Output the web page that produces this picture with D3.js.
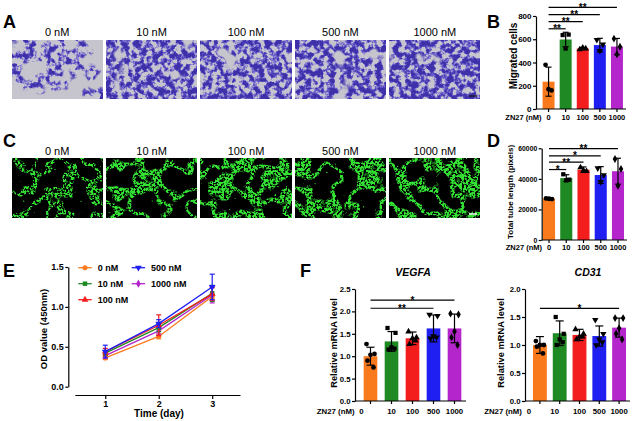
<!DOCTYPE html>
<html>
<head>
<meta charset="utf-8">
<script src="https://cdn.jsdelivr.net/npm/d3@7"></script>
<style>
body { margin: 0; background: #fff; }
svg { display: block; font-family: "Liberation Sans", Arial, sans-serif; }
</style>
</head>
<body>
<svg width="641" height="421"></svg>
<script>
// ---- data ----
const cats = ["0", "10", "100", "500", "1000"];
const doseNames = ["0 nM", "10 nM", "100 nM", "500 nM", "1000 nM"];
const catColors = ["#f97a1d", "#1f8a23", "#f41d1d", "#1f1ff2", "#b425cc"];

// B: migrated cells
const migMean = [235, 598, 520, 550, 537];
const migSd = [125, 62, 10, 58, 70];
const migPts = [[380, 160, 170], [636, 640, 520], [512, 520, 528], [595, 555, 500], [605, 535, 470]];
const migTicks = [0, 200, 400, 600, 800];
const migSig = [[1, "**", 690], [2, "**", 751], [3, "**", 811], [4, "**", 875]];

// D: total tube length
const tubeMean = [27000, 40500, 46000, 42500, 45000];
const tubeSd = [600, 2200, 1800, 5500, 8500];
const tubePts = [[27200, 26800, 27000], [43000, 39500, 39000], [47500, 45000, 45500], [47000, 42500, 38000], [53000, 46500, 35500]];
const tubeTicks = [0, 20000, 40000, 60000];
const tubeSig = [[1, "*", 46100], [2, "**", 51000], [3, "*", 55000], [4, "**", 59800]];

// E: OD value over time
const days = [1, 2, 3];
const od0 = [0.36, 0.63, 1.13], odSd0 = [0.02, 0.03, 0.03];
const od10 = [0.42, 0.74, 1.17], odSd10 = [0.03, 0.05, 0.10];
const od100 = [0.44, 0.77, 1.16], odSd100 = [0.04, 0.13, 0.08];
const od500 = [0.44, 0.79, 1.25], odSd500 = [0.08, 0.05, 0.16];
const od1000 = [0.39, 0.70, 1.15], odSd1000 = [0.03, 0.04, 0.10];
const odTicks = [0, 0.5, 1.0, 1.5];

// F: relative mRNA
const vegfaMean = [1.0, 1.33, 1.40, 1.62, 1.62];
const vegfaSd = [0.2, 0.22, 0.14, 0.30, 0.32];
const vegfaPts = [[1.27, 1.05, 1.03, 0.9, 0.75], [1.63, 1.52, 1.2, 1.15, 1.17], [1.55, 1.42, 1.4, 1.27, 1.35],
                  [1.93, 1.9, 1.45, 1.4, 1.42], [1.95, 1.93, 1.55, 1.42, 1.25]];
const vegfaTicks = [0, 0.5, 1.0, 1.5, 2.0, 2.5];
const vegfaSig = [[4, "*", 2.25], [3, "**", 2.07]];

const cd31Mean = [1.0, 1.21, 1.18, 1.16, 1.31];
const cd31Sd = [0.15, 0.22, 0.10, 0.18, 0.17];
const cd31Pts = [[1.07, 1.0, 1.0, 0.97, 0.85], [1.5, 1.2, 1.1, 1.0, 1.05], [1.28, 1.2, 1.15, 1.1, 1.15],
                 [1.45, 1.2, 1.1, 1.0, 1.05], [1.48, 1.48, 1.3, 1.2, 1.1]];
const cd31Ticks = [0, 0.5, 1.0, 1.5, 2.0];
const cd31Sig = [[4, "*", 1.655]];

// ---- drawing ----
const svg = d3.select("svg");
const defs = svg.append("defs");
svg.append("rect").attr("width", 641).attr("height", 421).attr("fill", "#fff");

const symTypes = [d3.symbolCircle, d3.symbolSquare, d3.symbolTriangle, d3.symbolTriangle, d3.symbolDiamond];
const offs3 = [-3, 3, 0];
const offs5 = [-4, 4, 0, -3, 3];

// panel letters
[["A", 3, 28], ["B", 487, 28], ["C", 3, 147], ["D", 487, 147], ["E", 3, 277], ["F", 300, 277]].forEach(([t, x, y]) => {
  svg.append("text").attr("x", x).attr("y", y).attr("font-size", 18).attr("font-weight", "bold").text(t);
});

// micrograph-like tiles (textures only)
const imgX = d3.scaleBand().domain(doseNames).range([12, 480]).paddingInner(0.043);

function toAlpha(f, src, out) {
  f.append("feColorMatrix").attr("in", src).attr("type", "matrix")
    .attr("values", "0 0 0 0 0 0 0 0 0 0 0 0 0 0 0 1 0 0 0 0").attr("result", out + "a");
  return out + "a";
}
// soft threshold
function soft(f, src, out, t, k) {
  const a = toAlpha(f, src, out);
  f.append("feComponentTransfer").attr("in", a).attr("result", out)
    .append("feFuncA").attr("type", "linear").attr("slope", k).attr("intercept", -k * t + 0.5);
}
// ridge mask around noise mid value
function ridge(f, src, out, w) {
  const a = toAlpha(f, src, out);
  const n = 80;
  const tv = d3.range(n).map(i => {
    const dd = Math.abs((i + 0.5) / n - 0.5);
    return dd < w ? 1 : dd < w * 1.4 ? 0.45 : 0;
  });
  f.append("feComponentTransfer").attr("in", a).attr("result", out)
    .append("feFuncA").attr("type", "discrete").attr("tableValues", tv.join(" "));
}
function newFilter(id) {
  return defs.append("filter").attr("id", id).attr("x", 0).attr("y", 0).attr("width", 1).attr("height", 1)
    .attr("color-interpolation-filters", "sRGB");
}
function paint(f, color, m, out) {
  f.append("feFlood").attr("flood-color", color).attr("result", out + "f");
  f.append("feComposite").attr("in", out + "f").attr("in2", m).attr("operator", "in").attr("result", out);
}

function stainFilter(id, seed, t, gate) {
  const f = newFilter(id);
  f.append("feTurbulence").attr("type", "fractalNoise").attr("baseFrequency", 0.17).attr("numOctaves", 3).attr("seed", seed).attr("result", "hi");
  f.append("feTurbulence").attr("type", "fractalNoise").attr("baseFrequency", 0.045).attr("numOctaves", 2).attr("seed", seed + 20).attr("result", "lo");
  soft(f, "hi", "hm", t, 9);
  soft(f, "hi", "hd", t + 0.1, 9);
  soft(f, "lo", "lm", gate, 12);
  f.append("feComposite").attr("in", "hm").attr("in2", "lm").attr("operator", "in").attr("result", "m1");
  f.append("feComposite").attr("in", "hd").attr("in2", "lm").attr("operator", "in").attr("result", "m2");
  paint(f, "#7265cf", "m1", "cells");
  paint(f, "#3d30a8", "m2", "core");
  f.append("feFlood").attr("flood-color", "#c6c5cd").attr("result", "bg");
  const m = f.append("feMerge");
  ["bg", "cells", "core"].forEach(n => m.append("feMergeNode").attr("in", n));
}

function tubeFilter(id, seed, w, sp) {
  const f = newFilter(id);
  f.append("feTurbulence").attr("type", "fractalNoise").attr("baseFrequency", 0.042).attr("numOctaves", 2).attr("seed", seed).attr("result", "n1");
  f.append("feTurbulence").attr("type", "fractalNoise").attr("baseFrequency", 0.45).attr("numOctaves", 2).attr("seed", seed + 3).attr("result", "n2");
  f.append("feTurbulence").attr("type", "fractalNoise").attr("baseFrequency", 0.35).attr("numOctaves", 1).attr("seed", seed + 5).attr("result", "n3");
  ridge(f, "n1", "net", w);
  soft(f, "n2", "spk", sp, 7);
  soft(f, "n3", "dot", 0.77, 14);
  f.append("feComposite").attr("in", "net").attr("in2", "spk").attr("operator", "in").attr("result", "netS");
  const mm = f.append("feMerge").attr("result", "all");
  ["netS", "dot"].forEach(n => mm.append("feMergeNode").attr("in", n));
  paint(f, "#34e234", "all", "green");
  f.append("feFlood").attr("flood-color", "#000").attr("result", "bg");
  const m = f.append("feMerge");
  ["bg", "green"].forEach(n => m.append("feMergeNode").attr("in", n));
}

const stainT = [0.5, 0.45, 0.46, 0.45, 0.44];
const stainGate = [0.5, 0.3, 0.34, 0.33, 0.3];
const tubeW = [0.032, 0.05, 0.055, 0.05, 0.06];
doseNames.forEach((d, i) => {
  stainFilter("fa" + i, 3 + i * 7, stainT[i], stainGate[i]);
  tubeFilter("fc" + i, 41 + i * 5, tubeW[i], i === 0 ? 0.5 : 0.45);
  const x = imgX(d), w = imgX.bandwidth();
  svg.append("text").attr("x", x + w / 2).attr("y", 36).attr("text-anchor", "middle").attr("font-size", 11).text(d);
  svg.append("rect").attr("x", x).attr("y", 40).attr("width", w).attr("height", 59).attr("fill", "#ccc").attr("filter", `url(#fa${i})`);
  svg.append("text").attr("x", x + w / 2).attr("y", 155).attr("text-anchor", "middle").attr("font-size", 11).text(d);
  svg.append("rect").attr("x", x).attr("y", 158).attr("width", w).attr("height", 60).attr("fill", "#000").attr("filter", `url(#fc${i})`);
});
// scale bars
const lastX = imgX("1000 nM") + imgX.bandwidth();
svg.append("line").attr("x1", lastX - 11).attr("x2", lastX - 3).attr("y1", 96).attr("y2", 96).attr("stroke", "#111").attr("stroke-width", 1.2);
svg.append("line").attr("x1", lastX - 11).attr("x2", lastX - 3).attr("y1", 214).attr("y2", 214).attr("stroke", "#fff").attr("stroke-width", 1.5);

// axes helpers
function leftAxis(x, y, ticks, fmt, fs) {
  const g = svg.append("g").attr("transform", `translate(${x},0)`)
    .call(d3.axisLeft(y).tickValues(ticks).tickFormat(fmt).tickSize(3).tickSizeOuter(0).tickPadding(1.5));
  g.attr("font-family", null).attr("font-size", fs).attr("font-weight", "bold");
  g.selectAll("path,line").attr("stroke", "#000").attr("stroke-width", 1.2);
  return g;
}

function barChart(o) {
  const x = d3.scaleBand().domain(cats).range(o.band).paddingInner(o.pad).paddingOuter(o.pad / 2);
  const y = d3.scaleLinear().domain([0, o.yMax]).range(o.yRange);
  const cx = i => x(cats[i]) + x.bandwidth() / 2;
  const g = svg.append("g");
  g.selectAll(null).data(o.means).join("rect")
    .attr("x", (d, i) => x(cats[i])).attr("y", d => y(d))
    .attr("width", x.bandwidth()).attr("height", d => y(0) - y(d))
    .attr("fill", (d, i) => catColors[i]);
  o.means.forEach((m, i) => {
    const lo = y(m - o.sds[i]), hi = y(m + o.sds[i]);
    g.append("line").attr("x1", cx(i)).attr("x2", cx(i)).attr("y1", lo).attr("y2", hi).attr("stroke", "#000").attr("stroke-width", 1.2);
    [lo, hi].forEach(v => g.append("line").attr("x1", cx(i) - o.capW / 2).attr("x2", cx(i) + o.capW / 2)
      .attr("y1", v).attr("y2", v).attr("stroke", "#000").attr("stroke-width", 1.2));
  });
  o.pts.forEach((arr, i) => {
    const offs = arr.length === 3 ? offs3 : offs5;
    g.selectAll(null).data(arr).join("path")
      .attr("d", d3.symbol().type(symTypes[i]).size(o.sym))
      .attr("transform", (d, j) => `translate(${cx(i) + offs[j] * o.spread},${y(d)}) rotate(${i === 3 ? 180 : 0})`)
      .attr("fill", "#000");
  });
  leftAxis(o.axisX, y, o.ticks, o.fmt, o.tickFont);
  g.append("line").attr("x1", o.axisX).attr("x2", o.xEnd).attr("y1", y(0)).attr("y2", y(0)).attr("stroke", "#000").attr("stroke-width", 1.2);
  cats.forEach((c, i) => {
    g.append("line").attr("x1", cx(i)).attr("x2", cx(i)).attr("y1", y(0)).attr("y2", y(0) + 3).attr("stroke", "#000").attr("stroke-width", 1.2);
    g.append("text").attr("x", cx(i) + o.labelDx[i]).attr("y", o.labelY).attr("text-anchor", "middle")
      .attr("font-size", o.xFont).attr("font-weight", "bold").text(c);
  });
  g.append("text").attr("x", cx(0) + o.labelDx[0] - 7).attr("y", o.labelY).attr("text-anchor", "end")
    .attr("font-size", o.xFont).attr("font-weight", "bold").text("ZN27 (nM)");
  o.sig.forEach(([j, label, v]) => {
    g.append("line").attr("x1", cx(0)).attr("x2", cx(j)).attr("y1", y(v)).attr("y2", y(v)).attr("stroke", "#000").attr("stroke-width", 1.2);
    g.append("text").attr("x", (cx(0) + cx(j)) / 2).attr("y", y(v) + 3.5).attr("text-anchor", "middle")
      .attr("font-size", 10).attr("font-weight", "bold").text(label);
  });
  g.append("text").attr("transform", `translate(${o.titleX},${o.titleY}) rotate(-90)`).attr("text-anchor", "middle")
    .attr("font-size", o.titleFont).attr("font-weight", "bold").text(o.yTitle);
  if (o.gene) {
    g.append("text").attr("x", o.geneX).attr("y", 276).attr("text-anchor", "middle").attr("font-size", 10.5)
      .attr("font-weight", "bold").attr("font-style", "italic").text(o.gene);
  }
}

barChart({
  means: migMean, sds: migSd, pts: migPts, sig: migSig, ticks: migTicks, yMax: 800, fmt: d3.format("d"),
  band: [540, 625.5], pad: 0.3, yRange: [109, 16], axisX: 536, xEnd: 626, labelY: 120, labelDx: [0, 0, 0, 0, 0],
  tickFont: 8, xFont: 7.5, capW: 6, sym: 18, spread: 1,
  yTitle: "Migrated cells", titleX: 517, titleY: 56, titleFont: 10
});
barChart({
  means: tubeMean, sds: tubeSd, pts: tubePts, sig: tubeSig, ticks: tubeTicks, yMax: 60000, fmt: d3.format("d"),
  band: [540.4, 626.6], pad: 0.3, yRange: [240, 148.3], axisX: 541.7, xEnd: 627, labelY: 250, labelDx: [0, 0, 0, 0, 0],
  tickFont: 6.8, xFont: 7.5, capW: 6, sym: 18, spread: 1,
  yTitle: "Total tube length (pixels)", titleX: 513, titleY: 192, titleFont: 8
});
barChart({
  means: vegfaMean, sds: vegfaSd, pts: vegfaPts, sig: vegfaSig, ticks: vegfaTicks, yMax: 2.5, fmt: d3.format(".1f"),
  band: [360, 465], pad: 0.35, yRange: [401, 289], axisX: 355, xEnd: 466, labelY: 414, labelDx: [-9, 0, 0, 0, 0],
  tickFont: 7.8, xFont: 7.8, capW: 8, sym: 18, spread: 1,
  yTitle: "Relative mRNA level", titleX: 337, titleY: 343, titleFont: 9.3, gene: "VEGFA", geneX: 413
});
barChart({
  means: cd31Mean, sds: cd31Sd, pts: cd31Pts, sig: cd31Sig, ticks: cd31Ticks, yMax: 2, fmt: d3.format(".1f"),
  band: [530, 629], pad: 0.3, yRange: [401, 289], axisX: 525, xEnd: 630, labelY: 414, labelDx: [-11, -5, 0, 0, 0],
  tickFont: 7.8, xFont: 7.8, capW: 8, sym: 18, spread: 1,
  yTitle: "Relative mRNA level", titleX: 504, titleY: 343, titleFont: 9.3, gene: "CD31", geneX: 588
});

// E: line chart
const odSeries = [
  { name: "0 nM", v: od0, sd: odSd0 },
  { name: "10 nM", v: od10, sd: odSd10 },
  { name: "100 nM", v: od100, sd: odSd100 },
  { name: "500 nM", v: od500, sd: odSd500 },
  { name: "1000 nM", v: od1000, sd: odSd1000 }
];
const xE = d3.scaleLinear().domain([0.43, 3.52]).range([74.8, 240]);
const yE = d3.scaleLinear().domain([0, 1.5]).range([386.7, 267]);
const gE = svg.append("g");
const lineE = d3.line().x((d, i) => xE(days[i])).y(d => yE(d));
const drawOrder = [0, 4, 1, 2, 3];
drawOrder.forEach(k => {
  const s = odSeries[k], c = catColors[k];
  s.v.forEach((m, i) => {
    const x = xE(days[i]), lo = yE(m - s.sd[i]), hi = yE(m + s.sd[i]);
    gE.append("line").attr("x1", x).attr("x2", x).attr("y1", lo).attr("y2", hi).attr("stroke", c).attr("stroke-width", 1.2);
    [lo, hi].forEach(v => gE.append("line").attr("x1", x - 2.5).attr("x2", x + 2.5).attr("y1", v).attr("y2", v).attr("stroke", c).attr("stroke-width", 1.2));
  });
  gE.append("path").datum(s.v).attr("d", lineE).attr("fill", "none").attr("stroke", c).attr("stroke-width", 1.3);
  gE.selectAll(null).data(s.v).join("path")
    .attr("d", d3.symbol().type(symTypes[k]).size(20))
    .attr("transform", (d, i) => `translate(${xE(days[i])},${yE(d)}) rotate(${k === 3 ? 180 : 0})`)
    .attr("fill", c);
});
leftAxis(68.3, yE, odTicks, d3.format(".1f"), 9);
const axE = svg.append("g").attr("transform", "translate(0,395)")
  .call(d3.axisBottom(xE).tickValues(days).tickFormat(d3.format("d")).tickSize(4).tickSizeOuter(0).tickPadding(2));
axE.attr("font-family", null).attr("font-size", 9).attr("font-weight", "bold");
axE.selectAll("path,line").attr("stroke", "#000").attr("stroke-width", 1.2);
svg.append("text").attr("x", 159).attr("y", 417).attr("text-anchor", "middle").attr("font-size", 10).attr("font-weight", "bold").text("Time (day)");
svg.append("text").attr("transform", "translate(47,329) rotate(-90)").attr("text-anchor", "middle")
  .attr("font-size", 9.5).attr("font-weight", "bold").text("OD value (450nm)");

// legend
const legPos = [[78.3, 267.7], [78.3, 283.7], [78.3, 299.7], [131.7, 267.7], [131.7, 283.7]];
odSeries.forEach((s, k) => {
  const [lx, ly] = legPos[k], c = catColors[k];
  gE.append("line").attr("x1", lx).attr("x2", lx + 13.4).attr("y1", ly).attr("y2", ly).attr("stroke", c).attr("stroke-width", 1.3);
  gE.append("path").attr("d", d3.symbol().type(symTypes[k]).size(20)())
    .attr("transform", `translate(${lx + 6.7},${ly}) rotate(${k === 3 ? 180 : 0})`).attr("fill", c);
  gE.append("text").attr("x", lx + 19.4).attr("y", ly + 3.2).attr("font-size", 9).attr("font-weight", "bold").text(s.name);
});
</script>
</body>
</html>
